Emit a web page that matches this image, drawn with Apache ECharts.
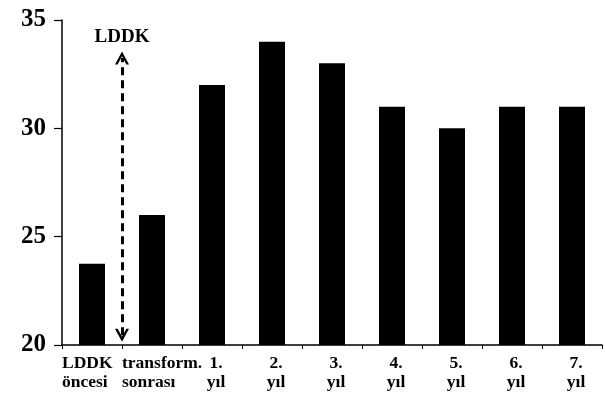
<!DOCTYPE html>
<html><head><meta charset="utf-8">
<script src="https://cdn.jsdelivr.net/npm/echarts@6/dist/echarts.min.js"></script>
<style>html,body{margin:0;padding:0;background:#fff}#c{width:605px;height:396px}</style>
</head><body><div id="c"></div>
<script>
var categories = ['LDDK\nöncesi', 'transform.\nsonrası', '1.\nyıl', '2.\nyıl', '3.\nyıl', '4.\nyıl', '5.\nyıl', '6.\nyıl', '7.\nyıl'];
var values = [23.75, 26, 32, 34, 33, 31, 30, 31, 31];
var yTicks = [20, 25, 30, 35];
var arrowLabel = 'LDDK';
var arrowRange = [20.45, 33.25];
var leftAlignedCount = 2; // first labels start at their left tick

var serif = '"Liberation Serif", "Times New Roman", serif';
var chev = 'path://M0,10 L5,0 L10,10 L8.1,10 L5,3.8 L1.9,10 Z';
var labelStyle = {interval: 0, margin: 9, color: '#000', fontFamily: serif,
  fontWeight: 'bold', fontSize: 17.5, lineHeight: 19};
var chart = echarts.init(document.getElementById('c'));
chart.setOption({
  animation: false,
  backgroundColor: '#fff',
  grid: {left: 62, right: 3, top: 20, bottom: 51},
  xAxis: [{
    type: 'category', data: categories, boundaryGap: true,
    axisLine: {lineStyle: {color: '#000', width: 1.5}},
    axisTick: {show: true, length: 4, lineStyle: {color: '#000'}},
    axisLabel: Object.assign({}, labelStyle, {
      padding: [0, 0, 0, 8],
      formatter: function (v, i) { return i < leftAlignedCount ? '' : v; }
    })
  }, {
    type: 'category', data: categories.concat(['']), boundaryGap: false, position: 'bottom',
    axisLine: {show: false}, axisTick: {show: false},
    axisLabel: Object.assign({}, labelStyle, {
      align: 'left',
      formatter: function (v, i) { return i < leftAlignedCount ? v : ''; }
    })
  }],
  yAxis: {
    type: 'value', min: yTicks[0], max: yTicks[yTicks.length - 1], interval: 5,
    splitLine: {show: false},
    axisLine: {show: true, lineStyle: {color: '#000', width: 1.5}},
    axisTick: {show: true, length: 8, lineStyle: {color: '#000', width: 1.2}},
    axisLabel: {color: '#000', fontFamily: serif, fontWeight: 'bold', fontSize: 25, margin: 16}
  },
  series: [{
    type: 'bar', data: values, barWidth: 26, xAxisIndex: 0,
    itemStyle: {color: '#000'}
  }, {
    type: 'line', xAxisIndex: 1, data: [], silent: true,
    markLine: {
      silent: true,
      symbol: [chev, chev],
      symbolSize: [14, 13],
      lineStyle: {color: '#000', width: 3, type: [8, 5]},
      label: {show: true, position: 'end', formatter: arrowLabel, color: '#000',
        fontFamily: serif, fontWeight: 'bold', fontSize: 19, distance: 11},
      data: [[{coord: [1, arrowRange[0]]}, {coord: [1, arrowRange[1]]}]]
    }
  }]
});
</script></body></html>
